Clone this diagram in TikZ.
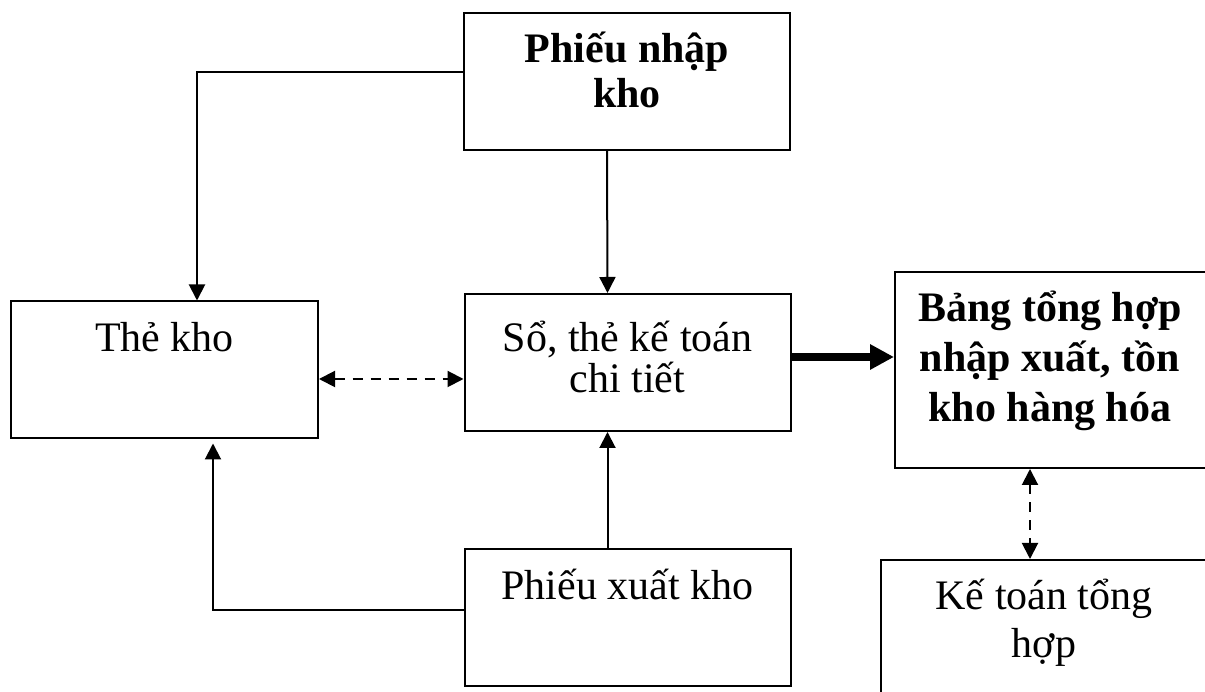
\documentclass[tikz,border=0pt]{standalone}
\usepackage{fontspec}
\setmainfont{Liberation Serif}
\usetikzlibrary{arrows.meta}

\tikzset{
  box/.style={draw, line width=2pt, rectangle, inner sep=0pt,
    minimum width=326pt, minimum height=137pt},
  txt/.style={align=center, anchor=base, inner sep=0pt},
  link/.style={line width=2pt, -{Triangle[length=16pt,width=16pt]}},
  dlink/.style={line width=2pt, dash pattern=on 10pt off 8pt,
    {Triangle[length=16pt,width=16pt]}-{Triangle[length=16pt,width=16pt]}},
  thick link/.style={line width=8pt, -{Triangle[length=24pt,width=24pt]}}
}

\begin{document}
\begin{tikzpicture}[x=1pt,y=1pt]
\clip (0,0) rectangle (1205,692);
\fill[white] (0,0) rectangle (1205,692);

% the boxes
\node[box] (pnk) at (627,610.5) {};
\node[box, minimum width=307pt] (thekho) at (164.5,322) {};
\node[box] (so) at (627.5,329.5) {};
\node[box] (pxk) at (627.5,74.5) {};
\node[box, minimum width=317pt, minimum height=196pt] (bang) at (1053.5,322) {};
\node[box, minimum width=329pt, minimum height=200pt] (ktth) at (1045.5,32) {};

% their texts (base = last line)
\node[txt, font=\fontsize{42}{45}\selectfont\bfseries] (pnk-t) at (627,584) {Phiếu nhập\\kho};
\node[txt, font=\fontsize{42}{48}\selectfont] (thekho-t) at (164.5,340) {Thẻ kho};
\node[txt, font=\fontsize{42}{41}\selectfont] (so-t) at (627.5,299) {Sổ, thẻ kế toán\\chi tiết};
\node[txt, font=\fontsize{42}{48}\selectfont] (pxk-t) at (627.5,92) {Phiếu xuất kho};
\node[txt, font=\fontsize{42}{50}\selectfont\bfseries] (bang-t) at (1050,270) {Bảng tổng hợp\\nhập xuất, tồn\\kho hàng hóa};
\node[txt, font=\fontsize{42}{48}\selectfont] (ktth-t) at (1044,34) {Kế toán tổng\\hợp};

% connectors
\draw[link] ([xshift=-20pt]pnk.south) -- ([xshift=-20pt]so.north);
\draw[link] ([yshift=9.5pt]pnk.west) -| ([xshift=32.5pt]thekho.north);
\draw[link] ([xshift=-20pt]pxk.north) -- ([xshift=-20pt]so.south);
\draw[link] ([yshift=7.5pt]pxk.west) -| ([xshift=48.5pt,yshift=-4pt]thekho.south);
\draw[dlink] ([yshift=-9pt]thekho.east) -- ([yshift=-9pt]thekho.east -| so.west);
\draw[thick link] ([yshift=5.5pt]so.east) -- ([yshift=5.5pt]so.east -| bang.west);
\draw[dlink] ([xshift=-23.5pt]bang.south) -- ([xshift=-23.5pt]bang.south |- ktth.north);
\end{tikzpicture}
\end{document}
